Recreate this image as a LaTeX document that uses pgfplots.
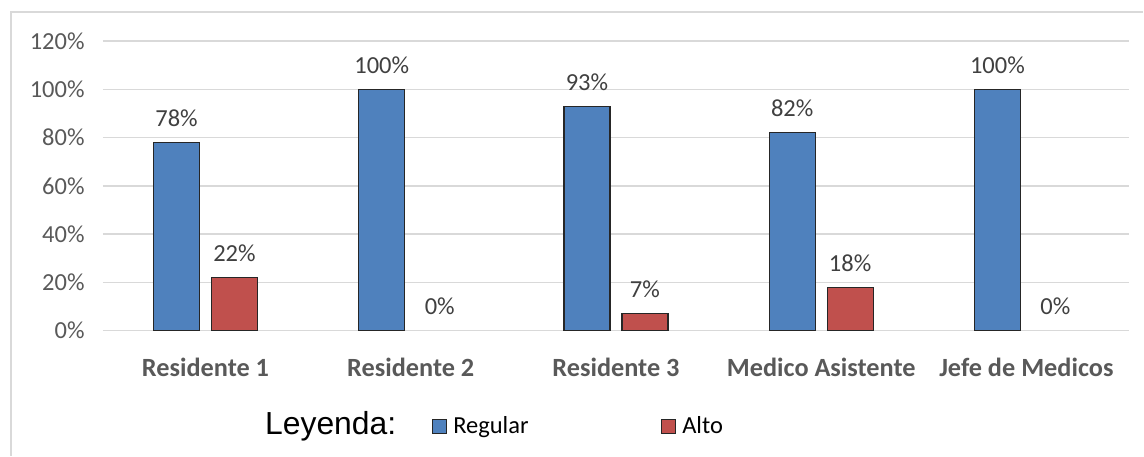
\documentclass[border=0pt]{standalone}
\usepackage{fontspec}
\setmainfont{Carlito}
\newfontfamily\arialfont{Liberation Sans}
\usepackage{pgfplots}
\pgfplotsset{compat=1.18}
\definecolor{barblue}{HTML}{4F81BD}
\definecolor{barred}{HTML}{C0504D}
\definecolor{txtgray}{HTML}{595959}
\definecolor{lblgray}{HTML}{404040}
\definecolor{gridgray}{HTML}{D9D9D9}

\begin{document}
\begin{tikzpicture}
% page frame (1px = 0.5bp)
\path (0,0) rectangle (572bp,228bp);
\draw[gridgray, line width=1bp] (5.5bp,0) -- (5.5bp,222bp) -- (572bp,222bp);
\begin{axis}[
  at={(51.5bp,62.5bp)}, anchor=south west,
  scale only axis, width=513.5bp, height=145bp,
  ybar,
  ymin=0, ymax=120, ytick={0,20,...,120},
  xmin=-0.5, xmax=4.5, xtick={0,1,2,3,4},
  xticklabels={Residente 1,Residente 2,Residente 3,Medico Asistente,Jefe de Medicos},
  /pgf/number format/assume math mode=true,
  yticklabel={\pgfmathprintnumber{\tick}\%},
  ymajorgrids, major grid style={gridgray, line width=0.75bp},
  axis line style={draw=none},
  major tick length=0pt,
  yticklabel style={font=\fontsize{12.3}{14}\selectfont, text=txtgray, inner sep=0pt, xshift=-9bp},
  xticklabel style={font=\fontsize{13.2}{15}\selectfont\bfseries, text=txtgray, anchor=base, inner sep=0pt, yshift=-23bp},
  bar width=23bp,
  nodes near coords={\pgfmathprintnumber{\pgfplotspointmeta}\%},
  nodes near coords style={font=\fontsize{12.3}{14}\selectfont, text=lblgray, anchor=base, inner sep=0pt, yshift=8bp},
  legend image code/.code={\draw[#1, line width=0.6bp] (0bp,-3.5bp) rectangle (7bp,3.5bp);},
  legend style={at={(0.3204,-0.331)}, anchor=west, draw=none, fill=none, inner sep=0pt,
    font=\fontsize{12.3}{14}\selectfont, legend columns=2,
    nodes={inner sep=0pt, anchor=west},
    /tikz/every odd column/.append style={column sep=3bp}},
]
% Regular
\addplot[fill=barblue, draw=black!85, line width=0.6bp, bar shift=-14.5bp] coordinates {
  (0,78) (1,100) (2,93) (3,82) (4,100)
};
% Alto (non-zero)
\addplot[fill=barred, draw=black!85, line width=0.6bp, bar shift=14.5bp] coordinates {
  (0,22) (2,7) (3,18)
};
\addlegendentry{\makebox[104bp][l]{Regular}}
\addlegendentry{Alto}
% Alto (zero values: label only)
\addplot[draw=none, fill=none, bar shift=14.5bp, forget plot] coordinates {
  (1,0) (4,0)
};
\end{axis}
\node[anchor=west, inner sep=0pt, font=\arialfont\fontsize{16}{18}\selectfont] at (132.5bp,14.5bp) {Leyenda:};
\end{tikzpicture}
\end{document}
